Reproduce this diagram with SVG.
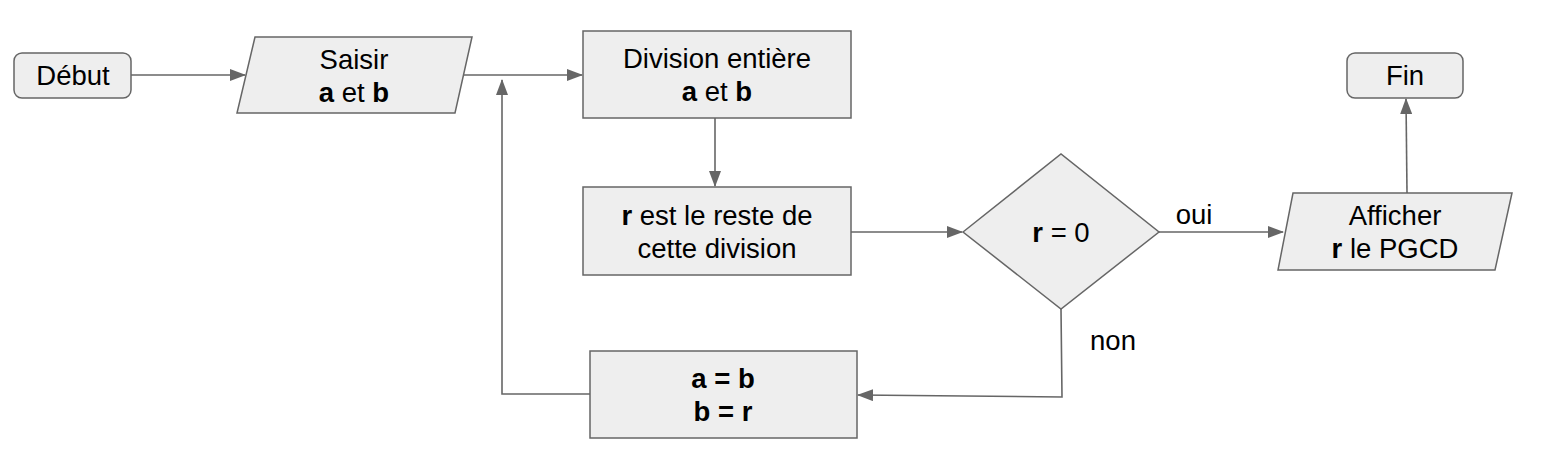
<svg xmlns="http://www.w3.org/2000/svg" width="1561" height="458" viewBox="0 0 1561 458">
<defs>
<style>
.n{fill:#eeeeee;stroke:#666666;stroke-width:1.5}
.c{fill:none;stroke:#666666;stroke-width:1.6}
text{font-family:"Liberation Sans",Arial,sans-serif;font-size:27.5px;fill:#000;text-anchor:middle}
.b{font-weight:bold}
</style>
<marker id="ah" markerWidth="16" markerHeight="12" refX="15" refY="6" orient="auto" markerUnits="userSpaceOnUse">
<path d="M0,0 L16,6 L0,12 z" fill="#666666"/>
</marker>
</defs>
<rect width="1561" height="458" fill="#ffffff"/>
<g id="connectors">
<path class="c" d="M131,75 H245" marker-end="url(#ah)"/>
<path class="c" d="M463,75 H582" marker-end="url(#ah)"/>
<path class="c" d="M715,118 V186" marker-end="url(#ah)"/>
<path class="c" d="M851,232 H962" marker-end="url(#ah)"/>
<path class="c" d="M1159,232 H1283" marker-end="url(#ah)"/>
<path class="c" d="M1407,193 L1406,99" marker-end="url(#ah)"/>
<path class="c" d="M1061,309 L1062,397 L858,395" marker-end="url(#ah)"/>
<path class="c" d="M590,394 H502 V80" marker-end="url(#ah)"/>
<text x="1194" y="224">oui</text>
<text x="1113" y="350">non</text>
</g>
<g id="debut">
<rect class="n" x="14" y="53" width="117" height="45" rx="8"/>
<text x="73" y="85">Début</text>
</g>
<g id="saisir">
<path class="n" d="M255,37 L472,37 L455,113 L237,113 Z"/>
<text x="354" y="68.5">Saisir</text>
<text x="354" y="101.5"><tspan class="b">a</tspan> et <tspan class="b">b</tspan></text>
</g>
<g id="division">
<rect class="n" x="583" y="31" width="268" height="87"/>
<text x="717" y="68">Division entière</text>
<text x="717" y="101"><tspan class="b">a</tspan> et <tspan class="b">b</tspan></text>
</g>
<g id="reste">
<rect class="n" x="583" y="187" width="268" height="88"/>
<text x="717" y="224.5"><tspan class="b">r</tspan> est le reste de</text>
<text x="717" y="257.5">cette division</text>
</g>
<g id="test">
<path class="n" d="M963,232 L1061,154 L1159,232 L1061,309 Z"/>
<text x="1061" y="242"><tspan class="b">r</tspan> = 0</text>
</g>
<g id="afficher">
<path class="n" d="M1293,193 L1512,193 L1495,270 L1278,270 Z"/>
<text x="1395" y="225">Afficher</text>
<text x="1395" y="258"><tspan class="b">r</tspan> le PGCD</text>
</g>
<g id="fin">
<rect class="n" x="1347" y="53" width="116" height="45" rx="8"/>
<text x="1405" y="85">Fin</text>
</g>
<g id="swap">
<rect class="n" x="590" y="351" width="267" height="87"/>
<text x="723" y="388" class="b">a = b</text>
<text x="723" y="421" class="b">b = r</text>
</g>
</svg>
